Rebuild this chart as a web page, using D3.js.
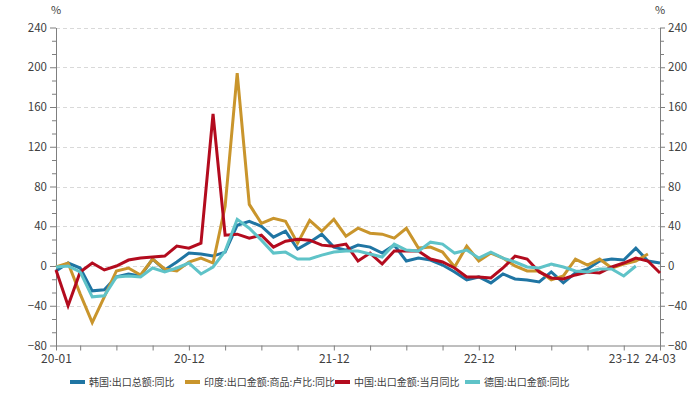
<!DOCTYPE html>
<html>
<head>
<meta charset="utf-8">
<script src="https://cdn.jsdelivr.net/npm/d3@7"></script>
<style>
  body { margin: 0; background: #fff; }
  svg text { font-family: "Noto Sans CJK SC", "Noto Sans", sans-serif; fill: #404040; }
</style>
</head>
<body>
<div id="chart"></div>
<script>
var months = ["20-01","20-02","20-03","20-04","20-05","20-06","20-07","20-08","20-09","20-10","20-11","20-12",
              "21-01","21-02","21-03","21-04","21-05","21-06","21-07","21-08","21-09","21-10","21-11","21-12",
              "22-01","22-02","22-03","22-04","22-05","22-06","22-07","22-08","22-09","22-10","22-11","22-12",
              "23-01","23-02","23-03","23-04","23-05","23-06","23-07","23-08","23-09","23-10","23-11","23-12",
              "24-01","24-02","24-03"];
var tickLabels = ["20-01","20-12","21-12","22-12","23-12","24-03"];
var yTicks = [-80, -40, 0, 40, 80, 120, 160, 200, 240];

var korea = [-5, 3, -2, -25, -24, -11, -8, -10, 7, -4, 4, 13, 12,
             10, 14, 41, 45, 40, 29, 35, 17, 24, 32, 19, 16, 21,
             19, 13, 21, 5, 8, 6, 1, -6, -14, -11, -17, -8,
             -13, -14, -16, -6, -17, -7, -3, 5, 7, 6, 18, 5, 3];
var india = [-1, 3, -28, -57, -31, -5, -2, -9, 7, -3, -5, 4, 8,
             3, 60, 194, 62, 43, 48, 45, 23, 46, 35, 47, 30, 38,
             33, 32, 28, 38, 18, 19, 14, -1, 20, 5, 13, 8,
             0, -5, -5, -14, -10, 7, 1, 7, -2, 2, 5, 12, null];
var china = [-4, -40, -6, 3, -4, 0, 6, 8, 9, 10, 20, 18, 23,
             153, 31, 32, 28, 31, 19, 25, 27, 26, 21, 20, 22, 5,
             13, 2, 15, 15, 15, 7, 4, -2, -11, -11, -12, -2,
             10, 7, -6, -12, -13, -9, -6, -7, -1, 3, 8, 5, -7];
var germany = [-1, 0, -6, -31, -30, -11, -10, -11, -2, -6, -2, 3, -8,
               -1, 15, 47, 38, 26, 13, 14, 7, 7, 11, 14, 15, 15,
               12, 9, 22, 16, 15, 24, 22, 13, 16, 8, 14, 8,
               4, -1, -2, 2, -1, -5, -6, -3, -3, -10, 0, null, null];

var seriesNames = ["韩国:出口总额:同比", "印度:出口金额:商品:卢比:同比", "中国:出口金额:当月同比", "德国:出口金额:同比"];
var seriesColors = ["#1f75a3", "#c9952c", "#b30b1e", "#5fc3c8"];
var seriesData = [korea, india, china, germany];

var W = 694, H = 394;
var plotLeft = 56, plotRight = 660, plotTop = 27.5, plotBottom = 345.5;

var svg = d3.select("#chart").append("svg")
    .attr("width", W)
    .attr("height", H);

var x = d3.scalePoint().domain(months).range([plotLeft, plotRight]);
var y = d3.scaleLinear().domain([-80, 240]).range([plotBottom, plotTop]);

// dashed grid
svg.append("g")
    .selectAll("line")
    .data(yTicks.filter(function(d){ return d > -80; }))
    .enter().append("line")
    .attr("x1", plotLeft).attr("x2", plotRight)
    .attr("y1", function(d){ return Math.round(y(d)) + 0.5; })
    .attr("y2", function(d){ return Math.round(y(d)) + 0.5; })
    .attr("stroke", "#d9d9d9")
    .attr("stroke-dasharray", "4,3");

// minor ticks on y (3 per major step)
var minor = [];
for (var v = -80; v < 240; v += 40) {
    minor.push(v + 40 / 3, v + 80 / 3);
}

function styleAxis(g){
    g.selectAll("path.domain").attr("stroke", "#7f7f7f");
    g.selectAll(".tick line").attr("stroke", "#7f7f7f");
    g.selectAll(".tick text").attr("fill", "#404040").style("font-size", "11.5px");
}

var yl = svg.append("g")
    .attr("transform", "translate(" + plotLeft + ",0)")
    .call(d3.axisLeft(y).tickValues(yTicks).tickSize(6).tickSizeOuter(0).tickPadding(3));
styleAxis(yl);
svg.append("g")
    .attr("transform", "translate(" + plotLeft + ",0)")
    .call(d3.axisLeft(y).tickValues(minor).tickSize(4).tickFormat(""))
    .call(function(g){ g.select(".domain").remove(); styleAxis(g); });

var yr = svg.append("g")
    .attr("transform", "translate(" + plotRight + ",0)")
    .call(d3.axisRight(y).tickValues(yTicks).tickSize(5).tickSizeOuter(0).tickPadding(3));
styleAxis(yr);
svg.append("g")
    .attr("transform", "translate(" + plotRight + ",0)")
    .call(d3.axisRight(y).tickValues(minor).tickSize(4).tickFormat(""))
    .call(function(g){ g.select(".domain").remove(); styleAxis(g); });

// x axis: ticks every quarter end, labels only on a few
var xTickVals = months.filter(function(m, i){ return i === 0 || ["03","06","09","12"].indexOf(m.slice(3)) >= 0; });
var xa = svg.append("g")
    .attr("transform", "translate(0," + plotBottom + ")")
    .call(d3.axisBottom(x).tickValues(xTickVals).tickSize(5).tickSizeOuter(0).tickPadding(4)
        .tickFormat(function(d){ return tickLabels.indexOf(d) >= 0 ? d : ""; }));
styleAxis(xa);
xa.selectAll(".tick text").style("font-size", "12px");

// unit labels
svg.append("text").attr("x", plotLeft).attr("y", 14).attr("text-anchor", "middle")
    .style("font-size", "11px").attr("fill", "#595959").text("%");
svg.append("text").attr("x", plotRight).attr("y", 14).attr("text-anchor", "middle")
    .style("font-size", "11px").attr("fill", "#595959").text("%");

// lines
var line = d3.line()
    .defined(function(d){ return d != null; })
    .x(function(d, i){ return x(months[i]); })
    .y(function(d){ return y(d); });

seriesData.forEach(function(s, k){
    svg.append("path")
        .datum(s)
        .attr("fill", "none")
        .attr("stroke", seriesColors[k])
        .attr("stroke-width", 3)
        .attr("stroke-linejoin", "miter")
        .attr("stroke-miterlimit", 10)
        .attr("d", line);
});

// legend
var legendX = [70, 185, 335, 465];
var legend = svg.append("g").attr("transform", "translate(0,382)");
seriesNames.forEach(function(name, k){
    var g = legend.append("g").attr("transform", "translate(" + legendX[k] + ",0)");
    g.append("line").attr("x1", 0).attr("x2", 15).attr("y1", 0).attr("y2", 0)
        .attr("stroke", seriesColors[k]).attr("stroke-width", 4);
    g.append("text").attr("x", 19).attr("y", 3.5)
        .style("font-size", "10px").attr("fill", "#404040").text(name);
});
</script>
</body>
</html>
